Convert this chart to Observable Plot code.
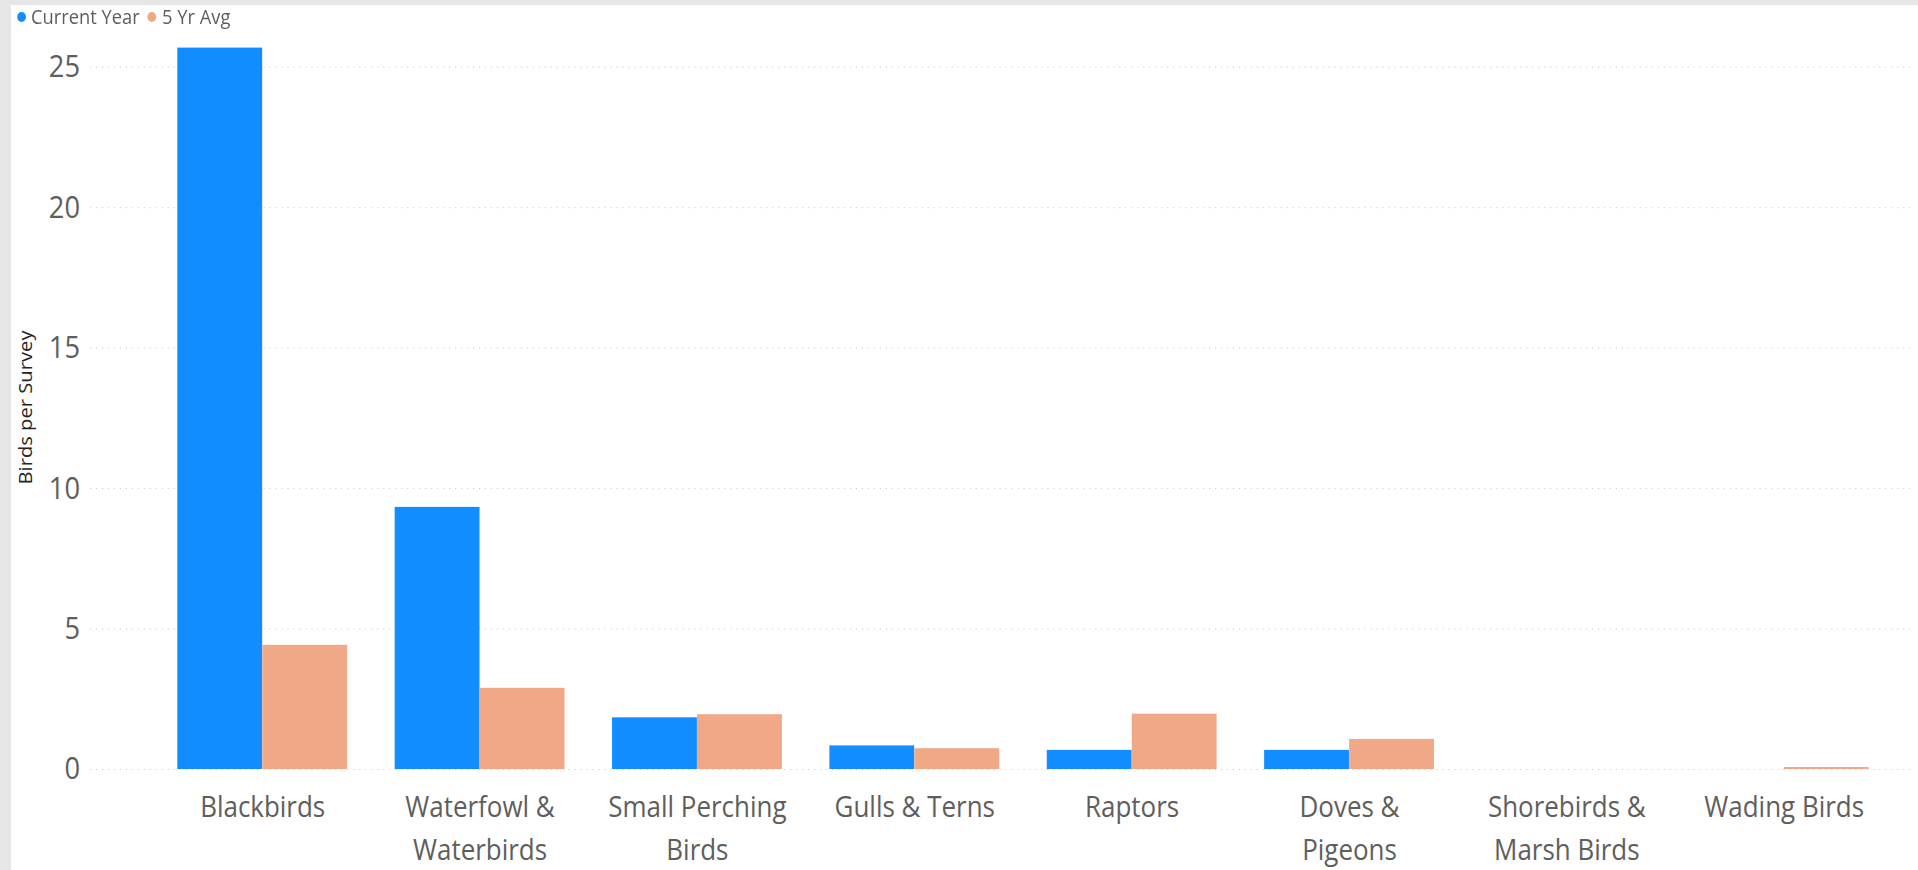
<!DOCTYPE html>
<html>
<head>
<meta charset="utf-8">
<script src="https://cdn.jsdelivr.net/npm/d3@7"></script>
<script src="https://cdn.jsdelivr.net/npm/@observablehq/plot@0.6"></script>
<style>
  html, body { margin: 0; padding: 0; background: #e6e6e6; width: 1918px; height: 870px; overflow: hidden; }
  #wrap { position: absolute; left: 11px; top: 5px; width: 2167px; height: 865px; background: #fff;
          transform: scaleX(0.88); transform-origin: 0 0; font-family: "Open Sans", Lato, sans-serif; }
  #legend { position: relative; height: 25px; }
  .dot { position: absolute; width: 10px; height: 10px; border-radius: 50%; top: 6.7px; }
  .lab { position: absolute; top: 1px; font-size: 20.8px; line-height: 21px; color: #605e5c; white-space: nowrap; }
  #chart svg { display: block; }
</style>
</head>
<body>
<div id="wrap">
  <div id="legend"></div>
  <div id="chart"></div>
</div>
<script>
// ---- data ----
const categories = ["Blackbirds", "Waterfowl & Waterbirds", "Small Perching Birds", "Gulls & Terns",
                    "Raptors", "Doves & Pigeons", "Shorebirds & Marsh Birds", "Wading Birds"];
const tickLabels = ["Blackbirds", "Waterfowl &\nWaterbirds", "Small Perching\nBirds", "Gulls & Terns",
                    "Raptors", "Doves &\nPigeons", "Shorebirds &\nMarsh Birds", "Wading Birds"];
const currentYear = [25.68, 9.33, 1.84, 0.84, 0.68, 0.68, 0, 0];
const fiveYrAvg   = [4.42, 2.89, 1.95, 0.74, 1.97, 1.07, 0, 0.07];
const seriesNames = ["Current Year", "5 Yr Avg"];
const seriesColors = ["#128dff", "#f0a887"];
const yTicks = [0, 5, 10, 15, 20, 25];
const yTitle = "Birds per Survey";

// ---- legend ----
const legend = document.getElementById("legend");
const legendPos = [[7.2, 22.7], [155.2, 171.6]];
seriesNames.forEach((name, i) => {
  const d = document.createElement("div");
  d.className = "dot"; d.style.left = legendPos[i][0] + "px"; d.style.background = seriesColors[i];
  legend.appendChild(d);
  const t = document.createElement("div");
  t.className = "lab"; t.style.left = legendPos[i][1] + "px"; t.textContent = name;
  legend.appendChild(t);
});

// ---- chart ----
const table = categories.map((c, i) => ({cat: c, cy: currentYear[i], avg: fiveYrAvg[i]}));
const halfBand = 96.6;

const chart = Plot.plot({
  width: 2167,
  height: 840,
  marginLeft: 89.8,
  marginRight: 6.8,
  marginTop: 15,
  marginBottom: 101,
  style: {fontFamily: "'Open Sans', Lato, sans-serif", background: "transparent", overflow: "visible"},
  x: {type: "band", domain: categories, range: [160.5, 2140], paddingInner: 0.217, paddingOuter: 0.1085},
  y: {domain: [0, 25], range: [739, 36.7]},
  marks: [
    Plot.gridY(yTicks, {stroke: "#c6c6c6", strokeOpacity: 1, strokeDasharray: "1.2,5.6"}),
    Plot.barY(table, {x: "cat", y: "cy", fill: seriesColors[0], insetRight: halfBand}),
    Plot.barY(table, {x: "cat", y: "avg", fill: seriesColors[1], insetLeft: halfBand}),
    Plot.axisY(yTicks, {tickSize: 0, tickPadding: 11.9, fontSize: 31, color: "#605e5c", label: null}),
    Plot.axisX({tickSize: 0, tickPadding: 17.5, fontSize: 29.5, lineHeight: 1.44, color: "#605e5c", label: null,
                tickFormat: d => tickLabels[categories.indexOf(d)]}),
    Plot.text([yTitle], {frameAnchor: "left", rotate: -90, dx: -73, fontSize: 20.2, fill: "#252423", textAnchor: "middle"})
  ]
});
document.getElementById("chart").appendChild(chart);
</script>
</body>
</html>
